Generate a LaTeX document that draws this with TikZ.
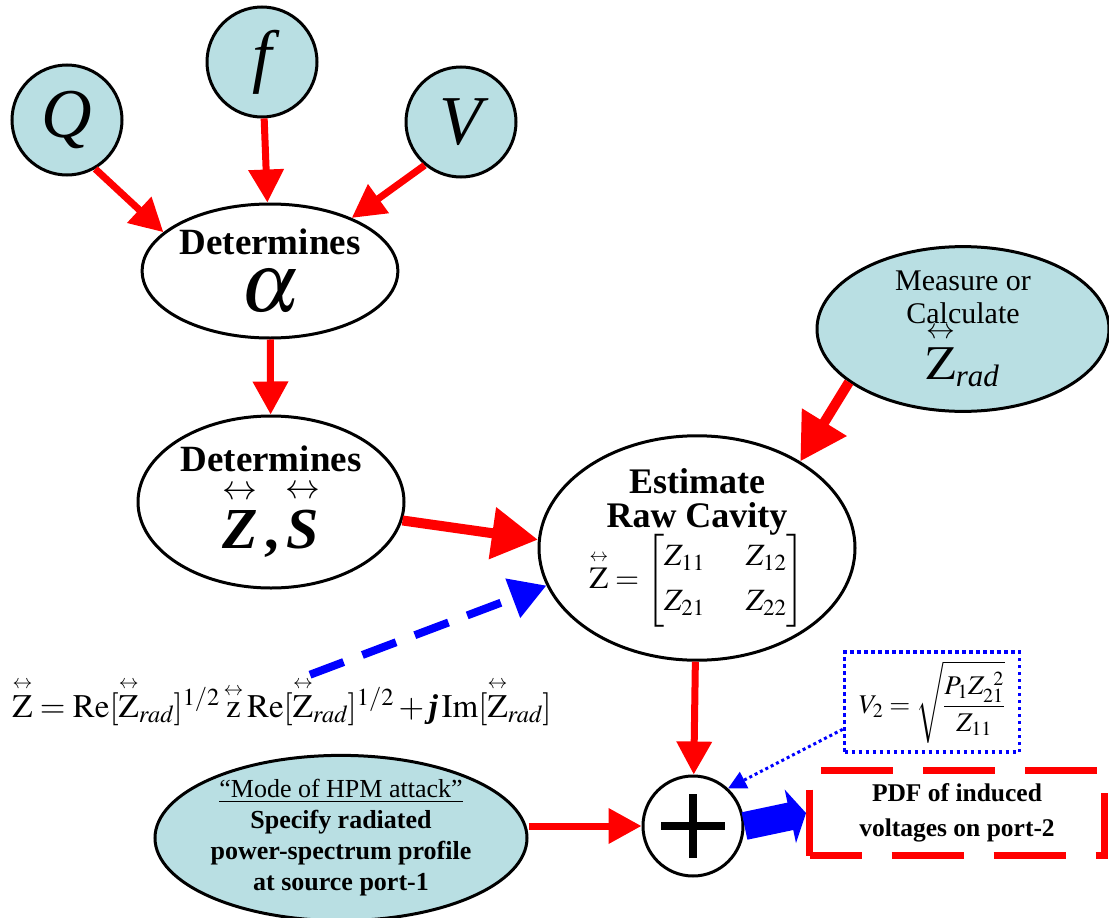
\documentclass[tikz,border=0pt]{standalone}
\usepackage{amsmath}
\usepackage{mathptmx}
\usepackage{fontspec}
\setmainfont{Liberation Serif}
\usepackage{tikz}
\usetikzlibrary{arrows.meta,positioning,calc,shapes.geometric}
\definecolor{inpfill}{RGB}{185,223,227}
\newcommand{\dy}[1]{\overset{\scriptscriptstyle\leftrightarrow}{#1}}
\newcommand{\fs}[2]{\fontsize{#1}{#2}\selectfont}
\tikzset{
  param/.style={circle, draw, line width=3pt, fill=inpfill, minimum size=110pt, inner sep=0pt,
    font=\fs{70}{70}\itshape},
  oval/.style={ellipse, draw, line width=3pt, fill=white, inner sep=0pt, align=center},
  src/.style={oval, fill=inpfill},
  adder/.style={circle, draw, line width=3pt, fill=white, minimum size=100pt, inner sep=0pt,
    path picture={
      \draw[line width=8pt] ([xshift=-32pt]path picture bounding box.center) -- ([xshift=32pt]path picture bounding box.center);
      \draw[line width=8pt] ([yshift=-32pt]path picture bounding box.center) -- ([yshift=32pt]path picture bounding box.center);}},
  feed/.style={draw=red, line width=7pt, -{Triangle[length=33pt, width=34pt]}},
  bigfeed/.style={draw=red, line width=10pt, -{Triangle[length=46pt, width=50pt]}},
  hint/.style={draw=blue, line width=8pt, dash pattern=on 36pt off 20pt, -{Triangle[length=36pt, width=40pt]}},
  dothint/.style={draw=blue, line width=3pt, dash pattern=on 3pt off 3pt, -{Triangle[length=18pt, width=18pt]}},
  result/.style={draw=blue, line width=28pt, -{Triangle[length=16pt, width=54pt]}},
  dotbox/.style={draw=blue, line width=3.5pt, dash pattern=on 3.5pt off 3.5pt, minimum width=175pt, minimum height=100pt, inner sep=0pt},
  resbox/.style={draw=red, line width=7pt, dash pattern=on 72pt off 30pt, dash phase=20pt,
    minimum width=295pt, minimum height=85pt, inner sep=0pt, align=center, font=\fs{25.5}{29}\bfseries}
}
\begin{document}
\begin{tikzpicture}[x=1pt, y=-1pt]
  \useasboundingbox (0,0) rectangle (1109,918);
  \foreach \x/\y/\name/\lbl in {67/120/q/Q, 262/62/f/f, 461/122/v/V}{
    \node[param] (\name) at (\x,\y) {\lbl};
  }
  \node[oval, minimum width=230pt, minimum height=134pt, font=\fs{37}{41}\bfseries] (alpha) at (270,271)
    {Determines\\[14pt] \fs{84}{84}$\alpha$};
  \node[oval, minimum width=266pt, minimum height=172pt, font=\fs{37}{41}\bfseries] (zs) at (271,502)
    {Determines\\[7pt] \fs{58}{58}$\dy{\textbf{\textit{Z}}}\,\textbf{,}\,\dy{\textbf{\textit{S}}}$};
  \node[src, minimum width=292pt, minimum height=158pt, font=\fs{30}{33}] (meas) at (963,329)
    {Measure or\\ Calculate\\[-2pt] \fs{48}{48}$\dy{\mathrm{Z}}_{\text{\fs{31}{31}\itshape rad}}$};
  \node[oval, minimum width=316pt, minimum height=206pt, font=\fs{36}{40}\bfseries] (est) at (697,548)
    {Estimate\\[-6pt] Raw Cavity\\[-2pt]
     \fs{31}{37}\mdseries$\dy{\mathrm{Z}}=\begin{bmatrix}Z_{11}&\quad Z_{12}\\[8pt] Z_{21}&\quad Z_{22}\end{bmatrix}$};
  \node[adder] (plus) at (693,826) {};
  \node[src, minimum width=372pt, minimum height=155pt, font=\fs{26}{31}] (mode) at (341,838)
    {\underline{“Mode of HPM attack”}\\ \textbf{Specify radiated}\\ \textbf{power-spectrum profile}\\ \textbf{at source port-1}};
  \node[dotbox, font=\fs{27}{30}] (v2) at (932,702)
    {$V_2=\sqrt{\dfrac{P_1Z_{21}^{\;\;2}}{Z_{11}}}$};
  \node[resbox] (pdf) at (957,813) {PDF of induced\\[6pt] voltages on port-2};
  \node[font=\fs{33}{36}] (eqn) at (282,702)
    {$\dy{\mathrm{Z}}=\mathrm{Re}[\dy{\mathrm{Z}}_{\mathit{rad}}]^{1/2}\,\dy{\mathrm{z}}\,\mathrm{Re}[\dy{\mathrm{Z}}_{\mathit{rad}}]^{1/2}+\textbf{\textit{j}}\,\mathrm{Im}[\dy{\mathrm{Z}}_{\mathit{rad}}]$};

  \draw[feed] (q.-60) -- (alpha.160);
  \draw[feed] (f) -- (alpha);
  \draw[feed] (v.230) -- (alpha.33);
  \draw[feed] (alpha) -- (zs);
  \draw[bigfeed] (zs.-8) -- (est.177);
  \draw[bigfeed] (meas.205) -- (est.40);
  \draw[hint] ($(eqn.north)+(28,0)$) -- (est.194);
  \draw[feed] (est) -- (plus);
  \draw[feed] (plus.west -| mode.east) -- (plus.west);
  \draw[dothint] (v2.197) -- (plus.47);
  \draw[result] (plus.east) -- (pdf.west);
\end{tikzpicture}
\end{document}
